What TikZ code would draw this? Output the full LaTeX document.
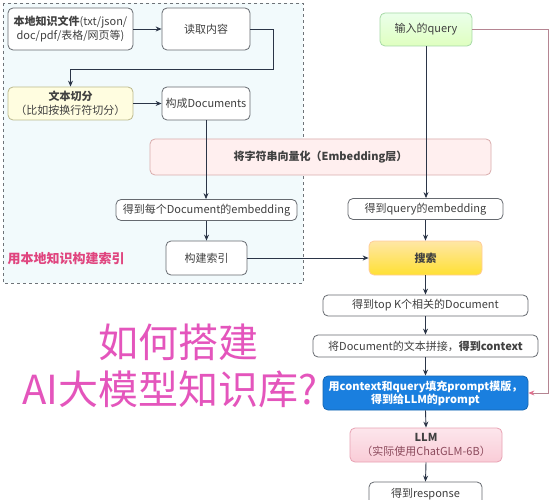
\documentclass[tikz,border=0pt]{standalone}
\usepackage{fontspec}
\setmainfont{Noto Sans CJK SC}
\usetikzlibrary{arrows.meta}

\definecolor{boxgray}{HTML}{666A70}
\definecolor{linenavy}{HTML}{2B3547}
\definecolor{areafill}{HTML}{F2FAFC}
\definecolor{areadash}{HTML}{6E7378}
\definecolor{titlepink}{HTML}{E455BC}
\definecolor{labelpink}{HTML}{E0457F}
\definecolor{sideline}{HTML}{B58592}
\definecolor{sidetip}{HTML}{E0708E}
\definecolor{promptblue}{HTML}{1A7FDF}
\definecolor{llmtop}{HTML}{FDE6EC}
\definecolor{llmbottom}{HTML}{F9CCD7}
\definecolor{llmedge}{HTML}{E8A2B3}
\definecolor{llmtext}{HTML}{8C4A5C}

\begin{document}
\begin{tikzpicture}[x=1pt, y=1pt,
	box/.style={draw=boxgray, fill=white, rounded corners=5pt, line width=0.8pt,
		align=center, inner sep=1pt, font=\fontsize{11}{14}\selectfont, text=black!75},
	arr/.style={draw=linenavy, line width=0.9pt, -{Stealth[length=6pt, width=5pt]}},
	]

	\clip (0,0) rectangle (557,-500);
	\fill[white] (0,0) rectangle (557,-500);

	% local knowledge area
	\draw[fill=areafill, draw=areadash, dashed, line width=0.8pt] (3,-3) rectangle (303,-283);
	\node[font=\fontsize{13}{15}\selectfont\bfseries, text=labelpink, anchor=west] (arealabel) at (4,-259) {用本地知识构建索引};

	\node[box, minimum width=125pt, minimum height=42pt] (file) at (70.5,-29) {\textbf{本地知识文件}(txt/json/\\doc/pdf/表格/网页等)};
	\node[box, minimum width=88pt, minimum height=42pt] (read) at (206,-29) {读取内容};
	\node[box, minimum width=125pt, minimum height=33pt, fill=yellow!12, draw=yellow!45!black!55] (split) at (70.5,-103.5) {\textbf{文本切分}\\（比如按换行符切分）};
	\node[box, minimum width=88pt, minimum height=33pt] (docs) at (206,-103.5) {构成Documents};
	\node[box, minimum width=341pt, minimum height=36pt, fill=pink!25, draw=pink!70!gray] (embed) at (320.5,-157) {\textbf{将字符串向量化（Embedding层）}};
	\node[box, minimum width=181pt, minimum height=21pt] (docemb) at (206.5,-210) {得到每个Document的embedding};
	\node[box, minimum width=81pt, minimum height=34pt] (index) at (206.5,-258) {构建索引};

	% query side
	\node[box, minimum width=92pt, minimum height=33pt, top color=green!8, bottom color=green!50!yellow!25, draw=green!40!gray!50] (query) at (426,-29.5) {输入的query};
	\node[box, minimum width=155pt, minimum height=21pt] (qemb) at (425.5,-209) {得到query的embedding};
	\node[box, minimum width=113pt, minimum height=34pt, top color=yellow!45!orange!35, bottom color=yellow!70!orange!80, draw=orange!40] (search) at (425.5,-258) {\textbf{搜索}};
	\node[box, minimum width=205pt, minimum height=21pt] (topk) at (425.5,-305.5) {得到top K个相关的Document};
	\node[box, minimum width=225pt, minimum height=22pt] (concat) at (425.5,-346) {将Document的文本拼接，\textbf{得到context}};
	\node[box, minimum width=205pt, minimum height=34pt, fill=promptblue, draw=promptblue!80!black, text=white, font=\fontsize{11}{13}\selectfont\bfseries] (prompt) at (425.5,-393) {用context和query填充prompt模版，\\得到给LLM的prompt};
	\node[box, minimum width=152pt, minimum height=34pt, top color=llmtop, bottom color=llmbottom, draw=llmedge] (llm) at (426,-445) {\textbf{LLM}\\\textcolor{llmtext}{（实际使用ChatGLM-6B）}};
	\node[box, minimum width=113pt, minimum height=28pt, text depth=6pt] (resp) at (425.5,-496) {得到response};

	\node[font=\fontsize{40}{44}\selectfont, text=titlepink] (title1) at (178,-342) {如何搭建};
	\node[font=\fontsize{40}{44}\selectfont, text=titlepink] (title2) at (170,-389) {AI大模型知识库?};

	% connectors
	\draw[arr] (file.east) -- (read.west);
	\draw[arr] (read.east) -- ++(23,0) -- ++(0,-40) -| (split.north);
	\draw[arr] (split.east) -- (docs.west);
	\draw[arr] (docs.south) -- (docs.south |- docemb.north);
	\draw[arr] (docemb.south) -- (index.north);
	\draw[arr] (index.east) -- (search.west);
	\draw[arr] (query.south) -- (query.south |- qemb.north);
	\draw[arr] (qemb.south) -- (search.north);
	\draw[arr] (search.south) -- (topk.north);
	\draw[arr] (topk.south) -- (concat.north);
	\draw[arr] (concat.south) -- (prompt.north);
	\draw[arr] (prompt.south) -- (llm.north);
	\draw[arr] (llm.south) -- (resp.north);
	\draw[draw=sideline, line width=0.8pt, -{Stealth[length=6pt, width=5pt, color=sidetip]}] (query.east) -- (548,-29.5) |- (prompt.east);

\end{tikzpicture}
\end{document}
